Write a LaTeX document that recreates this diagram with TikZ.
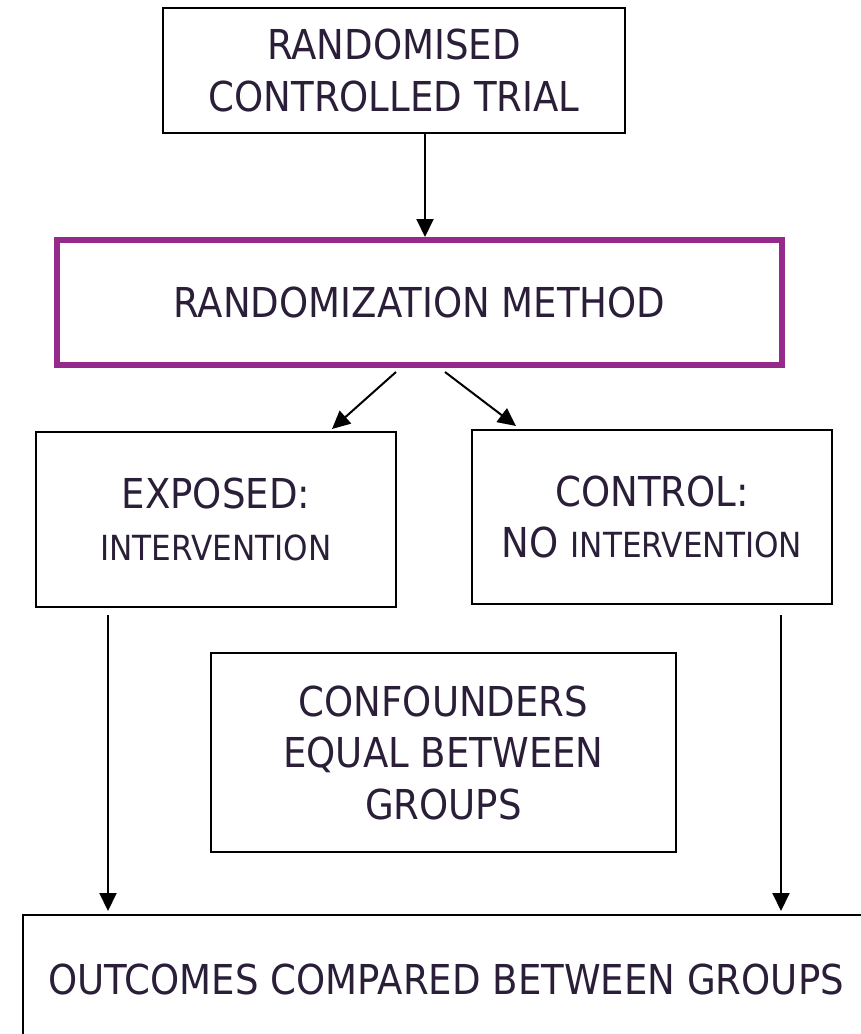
\documentclass[tikz,border=0pt]{standalone}
\usepackage{fontspec}
\setmainfont{DejaVu Sans}[FakeStretch=0.9]
\usetikzlibrary{arrows.meta}
\definecolor{inkcol}{RGB}{42,30,56}
\definecolor{rimpurple}{RGB}{150,42,138}
\newcommand{\smallword}[1]{{\fontsize{34.6}{52}\selectfont #1}}
\begin{document}
\begin{tikzpicture}[x=1pt,y=-1pt,
  box/.style={draw=black,line width=2pt,rectangle,align=center,inner sep=0pt,
    text=inkcol,font=\fontsize{41.2}{51.5}\selectfont},
  keybox/.style={box,draw=rimpurple,line width=6pt},
  arr/.style={draw=black,line width=2pt,-{Triangle[length=18pt,width=17pt]}}]
\useasboundingbox (0,0) rectangle (861,1034);
\clip (0,0) rectangle (861,1034);

% boxes
\node[box,minimum width=462pt,minimum height=125pt] (rct) at (394,70.5)
  {RANDOMISED\\CONTROLLED TRIAL};
\node[keybox,minimum width=725pt,minimum height=125pt] (rand) at (419.5,302.5)
  {RANDOMIZATION METHOD};
\node[box,minimum width=360pt,minimum height=175pt] (exp) at (216,519.5)
  {EXPOSED:\\\smallword{INTERVENTION}};
\node[box,minimum width=360pt,minimum height=174pt] (ctl) at (652,517)
  {CONTROL:\\NO \smallword{INTERVENTION}};
\node[box,minimum width=465pt,minimum height=199pt] (conf) at (443.5,752.5)
  {CONFOUNDERS\\EQUAL BETWEEN\\GROUPS};
\node[box,minimum width=846pt,minimum height=128pt] (out) at (446,979)
  {OUTCOMES COMPARED BETWEEN GROUPS};

% connectors
\coordinate (rctout) at ([xshift=31pt]rct.south);
\draw[arr] (rctout) -- (rctout |- rand.north);
\draw[arr] ([xshift=-23.5pt,yshift=-4pt]rand.south) -- ([xshift=-65pt,yshift=2pt]exp.north east);
\draw[arr] ([xshift=25.5pt,yshift=-4pt]rand.south) -- ([xshift=45pt,yshift=3pt]ctl.north west);
\coordinate (expout) at ([xshift=-108pt,yshift=-7pt]exp.south);
\coordinate (ctlout) at ([xshift=129pt,yshift=-10pt]ctl.south);
\draw[arr] (expout) -- ([yshift=3pt]expout |- out.north);
\draw[arr] (ctlout) -- ([yshift=3pt]ctlout |- out.north);
\end{tikzpicture}
\end{document}
